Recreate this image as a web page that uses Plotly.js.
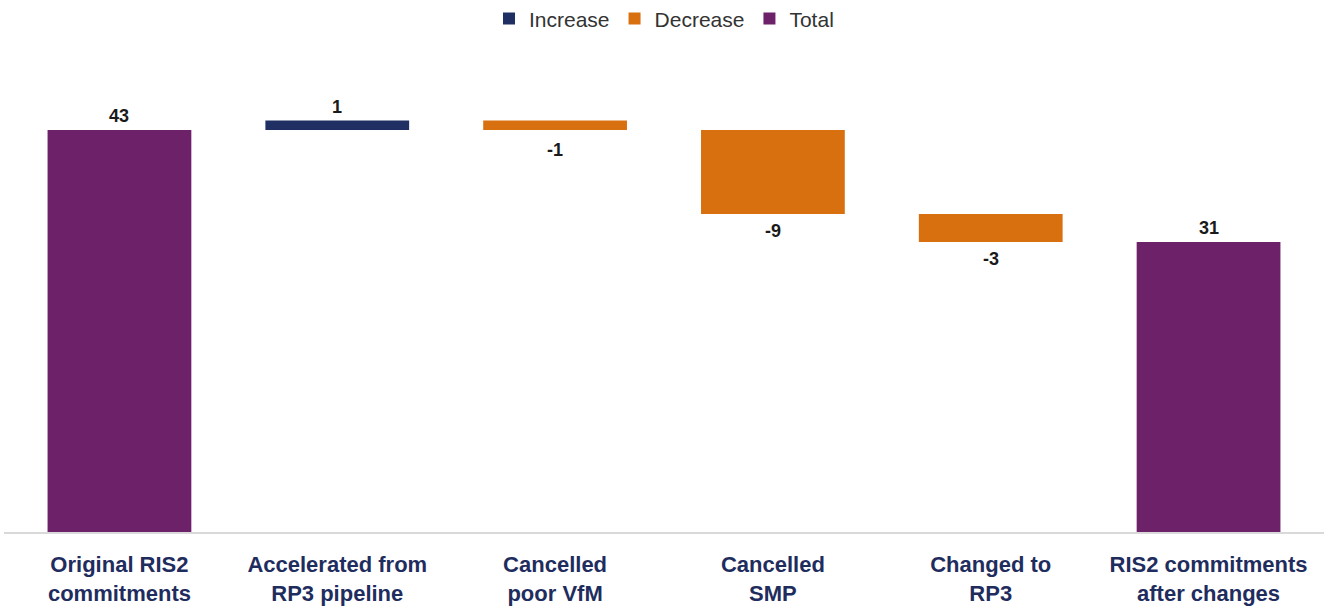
<!DOCTYPE html>
<html><head><meta charset="utf-8">
<script src="https://cdn.plot.ly/plotly-3.0.1.min.js"></script>
<style>body{margin:0;background:#fff}#chart{width:1329px;height:607px}</style>
</head><body><div id="chart"></div>
<script>
const categories = ["Original RIS2<br>commitments","Accelerated from<br>RP3 pipeline","Cancelled<br>poor VfM","Cancelled<br>SMP","Changed to<br>RP3","RIS2 commitments<br>after changes"];
const changes = [43, 1, -1, -9, -3, 31];
const kinds = ["total","increase","decrease","decrease","decrease","total"];
const labels = ["43","1","-1","-9","-3","31"];

const colors = {increase:"#1F2E63", decrease:"#D9700F", total:"#6D2169"};
const names = {increase:"Increase", decrease:"Decrease", total:"Total"};
const FONT = "Liberation Sans, Arial, sans-serif";

// running totals to find bar bases
let running = 0;
const bases = [];
const ends = [];
changes.forEach((v,i)=>{
  if(kinds[i]==="total"){ bases.push(0); running = v; }
  else { bases.push(running); running += v; }
  ends.push(running);
});

const traces = ["increase","decrease","total"].map(k=>({
  type:"bar",
  name:names[k],
  x:categories,
  y:changes.map((v,i)=>kinds[i]===k?v:null),
  base:bases.map((b,i)=>kinds[i]===k?b:null),
  width:0.66,
  marker:{color:colors[k]},
  hoverinfo:"x+y"
}));

const annotations = categories.map((c,i)=>{
  const down = changes[i] < 0;
  return {
    x:c, y:ends[i], xref:"x", yref:"y", text:labels[i], showarrow:false,
    yanchor: down ? "top" : "bottom",
    yshift: down ? (i===2 ? -8 : -5) : 2,
    font:{family:FONT,size:18,color:"#1a1a1a",weight:"bold"}
  };
});

const layout = {
  width:1329,height:607,
  margin:{l:4,r:5,t:85,b:75,autoexpand:false},
  barmode:"overlay",
  paper_bgcolor:"#fff",plot_bgcolor:"#fff",
  showlegend:true,
  legend:{orientation:"h",x:0.5,xanchor:"center",y:1.148,yanchor:"middle",
    font:{family:FONT,size:21,color:"#333"},
    traceorder:"normal"},
  annotations:annotations,
  xaxis:{type:"category",range:[-0.53,5.53],showline:true,linecolor:"#d9d9d9",linewidth:2,
    ticks:"",showgrid:false,zeroline:false,ticklabelstandoff:12,
    tickfont:{family:FONT,size:22,color:"#1F2D5E",weight:"bold"}},
  yaxis:{range:[0,47.8],visible:false,showgrid:false,zeroline:false,fixedrange:true},
  font:{family:FONT}
};
Plotly.newPlot("chart",traces,layout,{displayModeBar:false,staticPlot:true});
</script></body></html>
